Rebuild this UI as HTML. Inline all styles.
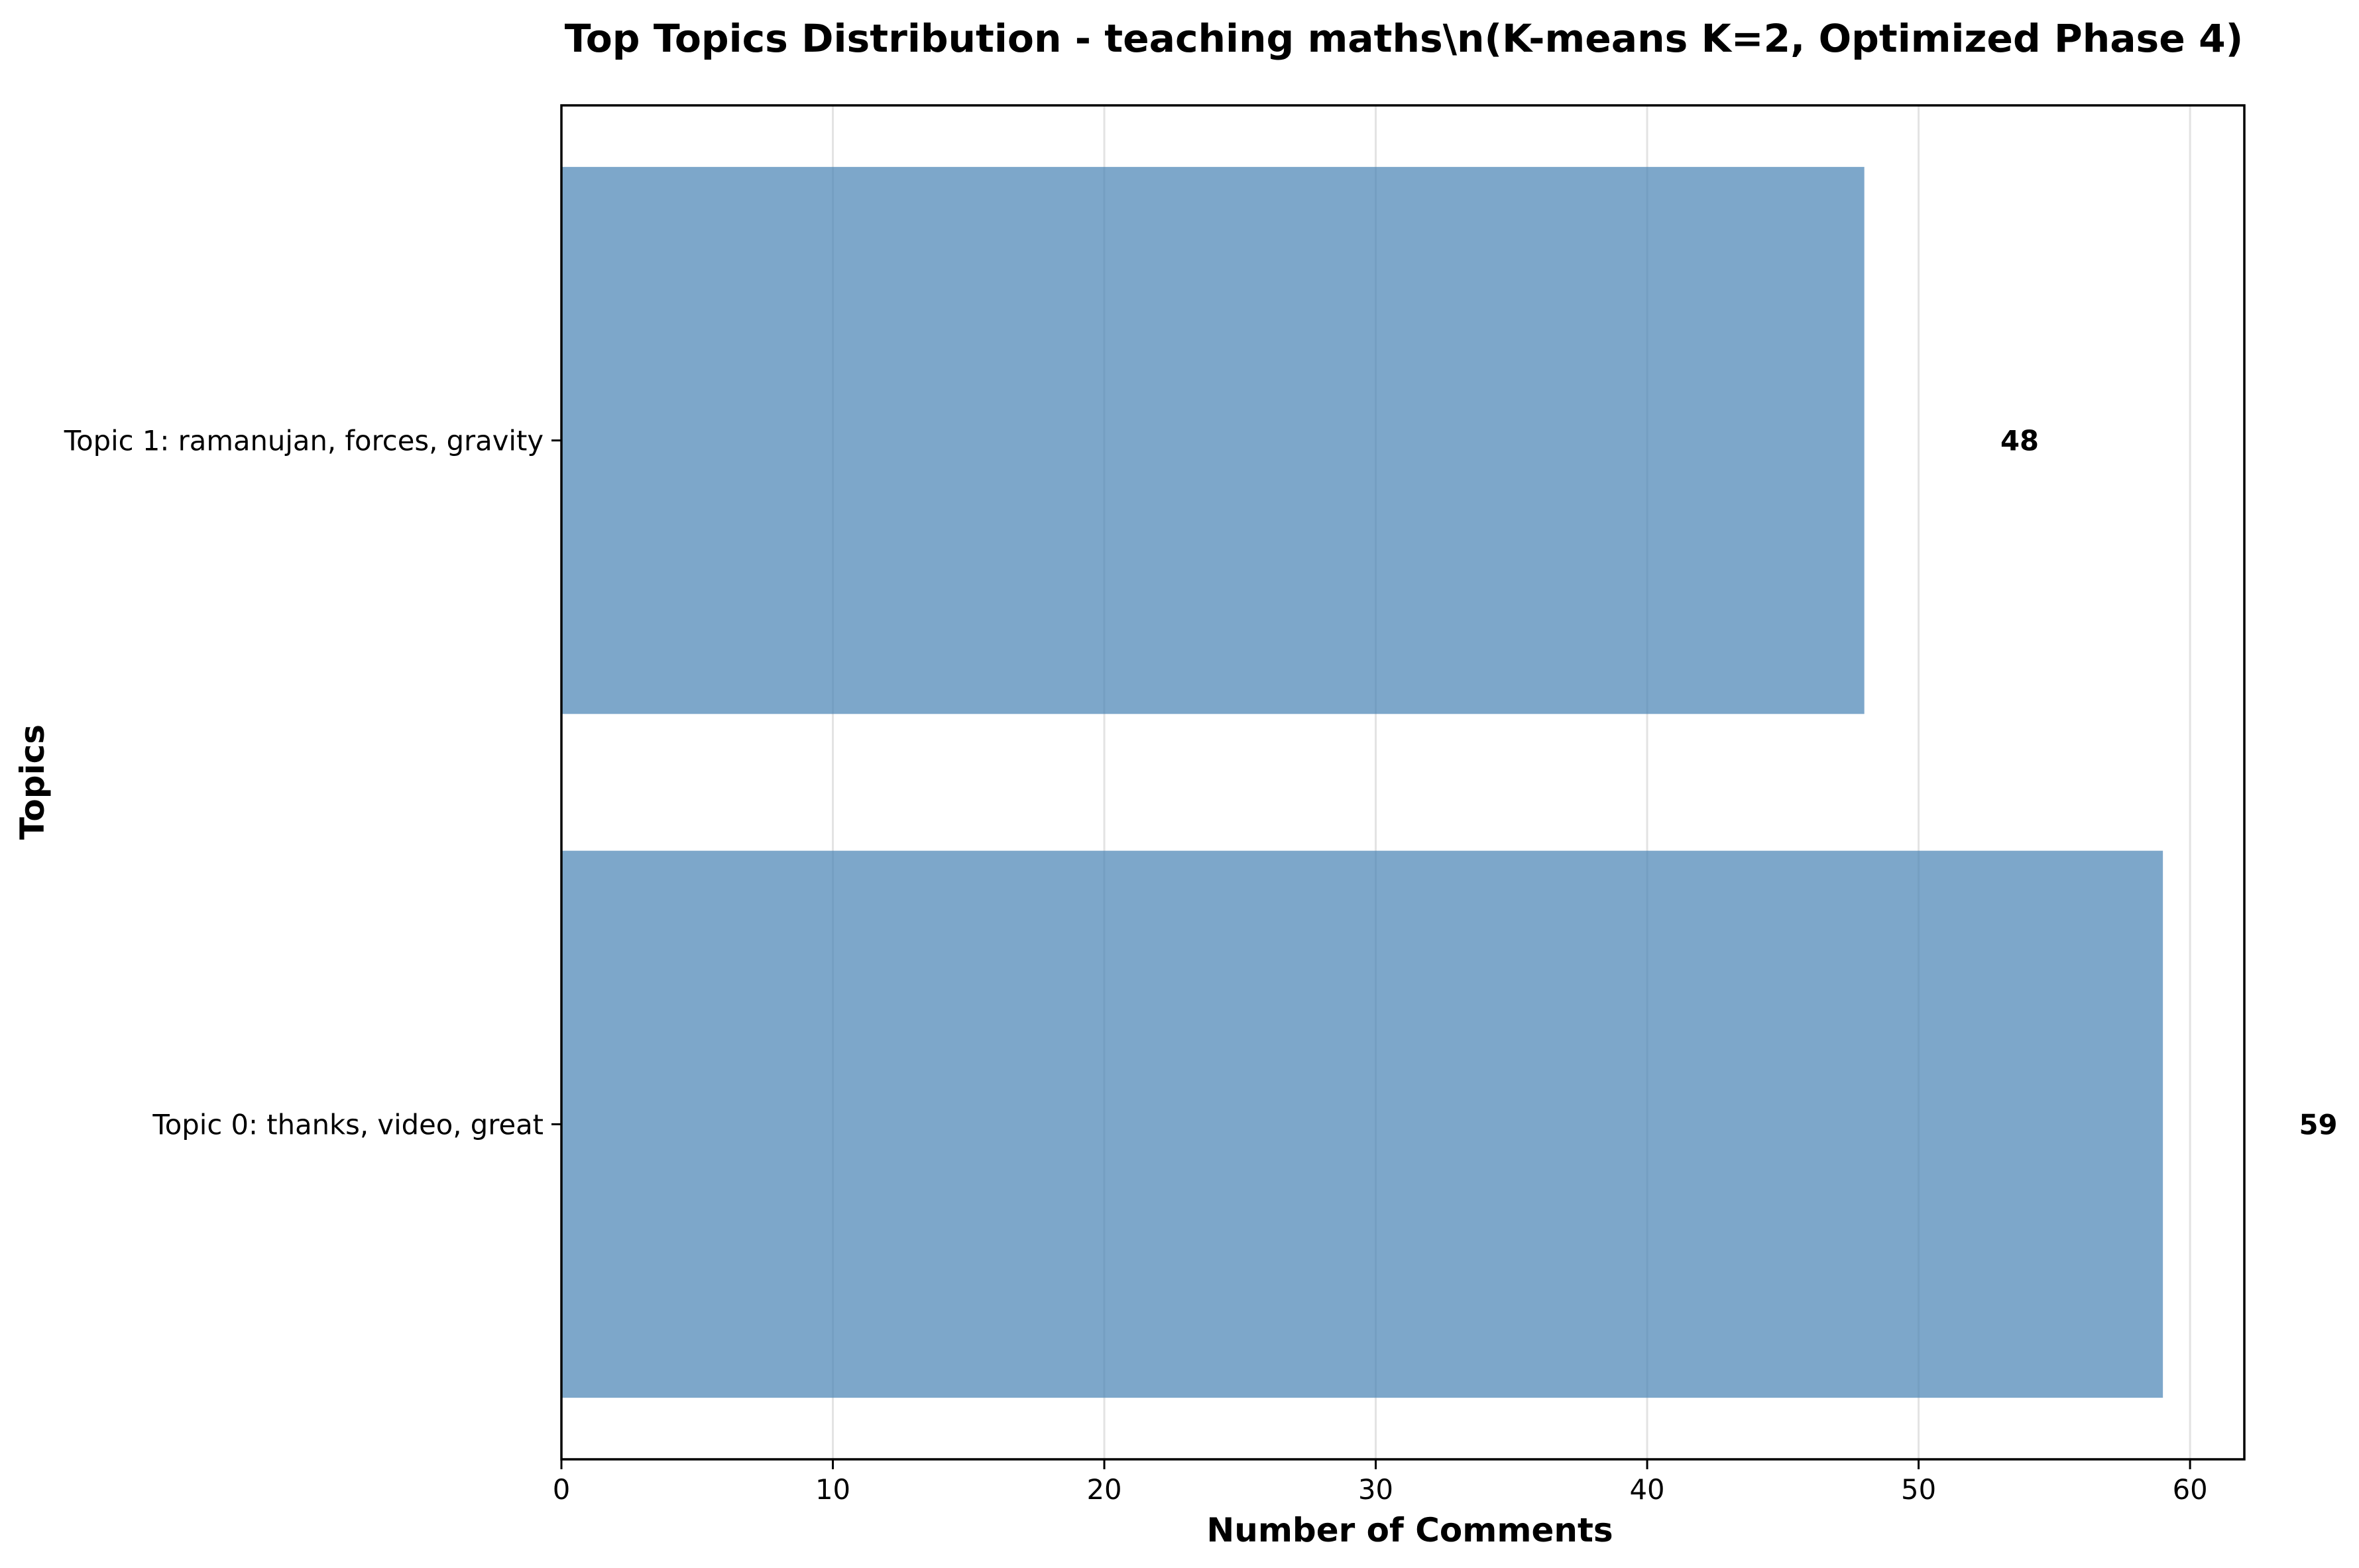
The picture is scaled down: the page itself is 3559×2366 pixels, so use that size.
<!DOCTYPE html>
<html><head><meta charset="utf-8"><style>
html,body{margin:0;padding:0;background:#fff;}
svg{display:block;font-family:"DejaVu Sans","Liberation Sans",sans-serif;}
</style></head><body>
<svg id="chart" width="3559" height="2366" viewBox="0 0 3559 2366">
<text x="2118" y="78" text-anchor="middle" font-size="58.3" font-weight="bold">Top Topics Distribution - teaching maths\n(K-means K=2, Optimized Phase 4)</text>
<g id="grid"></g>
<g id="bars"></g>
<rect x="847" y="159" width="2539" height="2043" fill="none" stroke="#000" stroke-width="3.5"/>
<g id="xaxis"></g>
<g id="yaxis"></g>
<text x="2127" y="2326" text-anchor="middle" font-size="50" font-weight="bold">Number of Comments</text>
<text transform="translate(66,1180) rotate(-90)" text-anchor="middle" font-size="50" font-weight="bold">Topics</text>
</svg>
<script>
const categories = ["Topic 0: thanks, video, great", "Topic 1: ramanujan, forces, gravity"];
const counts = [59, 48];
const xTicks = [0, 10, 20, 30, 40, 50, 60];
const NS = "http://www.w3.org/2000/svg";
const L = 847, R = 3386, T = 159, B = 2202;
const xMin = 0, xMax = 62, yMin = -0.49, yMax = 1.49;
const xs = v => L + (v - xMin) / (xMax - xMin) * (R - L);
const ys = v => B - (v - yMin) / (yMax - yMin) * (B - T);
function mk(tag, attrs, parent, text) {
  const e = document.createElementNS(NS, tag);
  for (const k in attrs) e.setAttribute(k, attrs[k]);
  if (text !== undefined) e.textContent = text;
  parent.appendChild(e);
  return e;
}
const grid = document.getElementById('grid'), bars = document.getElementById('bars');
const xa = document.getElementById('xaxis'), ya = document.getElementById('yaxis');
xTicks.forEach(t => {
  const g = mk('line', {x1: xs(t), x2: xs(t), y1: T, y2: B, stroke: '#e3e3e3', 'stroke-width': 3}, grid);
  
  
  const tk = mk('line', {x1: xs(t), x2: xs(t), y1: B, y2: B + 15, stroke: '#000', 'stroke-width': 3}, xa);
  
  
  const tl = mk('text', {x: xs(t), y: B + 60, 'text-anchor': 'middle', 'font-size': 41.7}, xa, String(t));
  
  
});
const maxV = Math.max(...counts);
categories.forEach((c, i) => {
  const v = counts[i];
  const b = mk('rect', {x: xs(0), y: ys(i + 0.4), width: xs(v) - xs(0), height: ys(i - 0.4) - ys(i + 0.4), fill: 'rgb(70,130,180)', 'fill-opacity': 0.7}, bars);
  
  
  const vl = mk('text', {x: xs(v + maxV * 0.085), y: ys(i) + 15, 'font-size': 41.7, 'font-weight': 'bold'}, bars, String(v));
  
  
  const tk = mk('line', {x1: L - 15, x2: L, y1: ys(i), y2: ys(i), stroke: '#000', 'stroke-width': 3}, ya);
  
  
  const tl = mk('text', {x: L - 27, y: ys(i) + 15, 'text-anchor': 'end', 'font-size': 41.7}, ya, c);
  
  
});
</script>
</body></html>
